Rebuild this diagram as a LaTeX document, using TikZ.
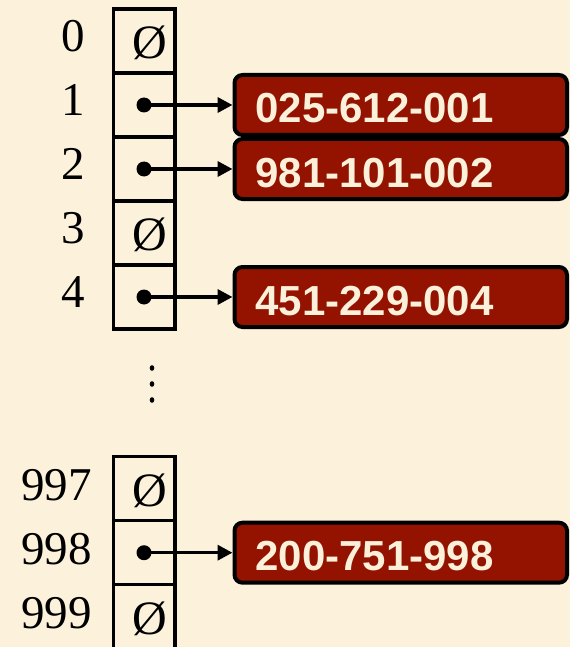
\documentclass[tikz,border=0pt]{standalone}
\usepackage{fontspec}
\setmainfont{Liberation Serif}
\newfontfamily\keyfont{Liberation Sans}
\usetikzlibrary{arrows.meta}
\definecolor{paper}{RGB}{252,241,219}
\definecolor{recred}{RGB}{147,18,0}
\definecolor{cream}{RGB}{251,240,217}

\begin{document}
\begin{tikzpicture}[x=1pt,y=-1pt,
  cell/.style={draw=black, line width=3.5pt, minimum width=61.5pt,
    minimum height=64pt, inner sep=0pt, outer sep=0pt},
  idx/.style={anchor=base east, inner sep=0pt, font=\fontsize{47}{47}\selectfont},
  nil/.style={anchor=base, inner sep=0pt, font=\fontsize{48}{48}\selectfont},
  ptr/.style={circle, fill=black, minimum size=15pt, inner sep=0pt},
  link/.style={line width=3.5pt, -{Triangle[length=15pt,width=15pt]}},
  rec/.style={anchor=west, draw=black, line width=4pt, fill=recred,
    rounded corners=8pt, text=cream, minimum width=332.5pt, minimum height=60pt,
    inner xsep=21pt, text width=290.5pt, align=left, text height=36pt, text depth=0pt,
    font=\keyfont\bfseries\fontsize{42}{42}\selectfont},
  ell/.style={fill=black}
]
% page
\fill[paper] (0,0) rectangle (570,647);
\useasboundingbox (0,0) rectangle (570,647);

% upper part of the table
\node[cell] (c0) at (144.25,41) {};
\node[cell] (c1) at (144.25,105) {};
\node[cell] (c2) at (144.25,169) {};
\node[cell] (c3) at (144.25,233) {};
\node[cell] (c4) at (144.25,297) {};

\node[idx] (i0) at (85,51.5) {0};
\node[idx] (i1) at (85,115.5) {1};
\node[idx] (i2) at (85,179.5) {2};
\node[idx] (i3) at (85,243.5) {3};
\node[idx] (i4) at (85,307.5) {4};

\node[nil] (n0) at (150,58.5) {Ø};
\node[nil] (n3) at (150,250.5) {Ø};

\node[ptr] (p1) at (144,105) {};
\node[ptr] (p2) at (144,169) {};
\node[ptr] (p4) at (144,297) {};

\node[rec] (r1) at (232.5,105) {025-612-001};
\node[rec] (r2) at (232.5,169) {981-101-002};
\node[rec] (r4) at (232.5,297) {451-229-004};

\draw[link] (p1.center) -- (r1.west);
\draw[link] (p2.center) -- (r2.west);
\draw[link] (p4.center) -- (r4.west);

% omitted rows
\fill[ell] (152,368) ellipse [x radius=2.3pt, y radius=2.8pt];
\fill[ell] (152,384) ellipse [x radius=2.3pt, y radius=2.8pt];
\fill[ell] (152,400) ellipse [x radius=2.3pt, y radius=2.8pt];

% lower part of the table
\node[cell] (c997) at (144.25,488.7) {};
\node[cell] (c998) at (144.25,552.7) {};
\node[cell] (c999) at (144.25,616.7) {};

\node[idx] (i997) at (92,500.2) {997};
\node[idx] (i998) at (92,564.2) {998};
\node[idx] (i999) at (92,628.2) {999};

\node[nil] (n997) at (150,506.2) {Ø};
\node[nil] (n999) at (150,634.2) {Ø};

\node[ptr] (p998) at (144,552.7) {};
\node[rec] (r998) at (232.5,552.7) {200-751-998};
\draw[link] (p998.center) -- (r998.west);
\end{tikzpicture}
\end{document}
